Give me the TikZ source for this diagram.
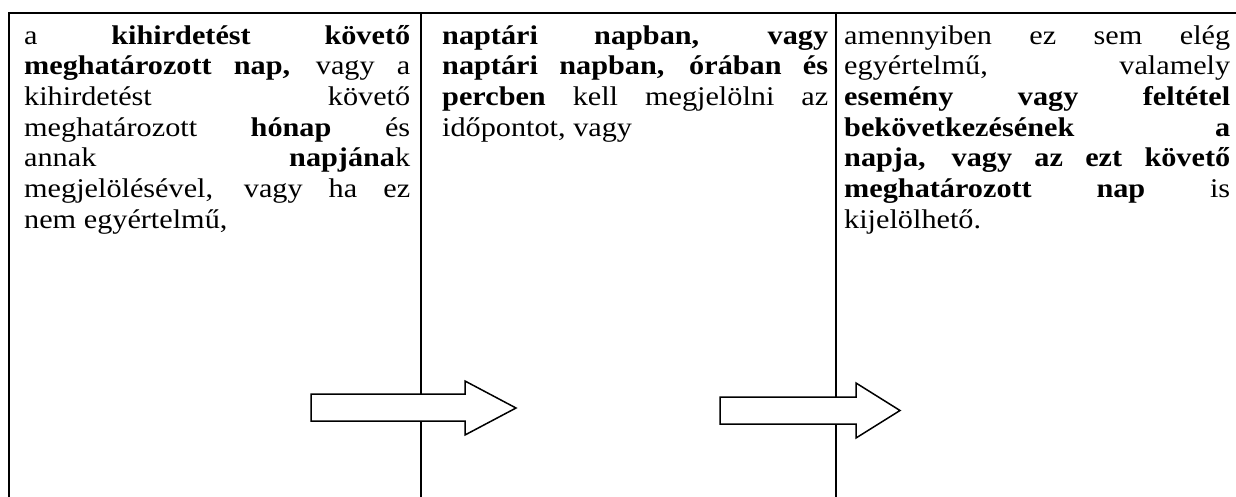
\documentclass[tikz,border=0pt]{standalone}
\usepackage{fontspec}
\setmainfont{Liberation Serif}[FakeStretch=1.12]
\begin{document}
\begin{tikzpicture}[x=1pt,y=-1pt,
  rule/.style={line width=2pt, line cap=rect},
  cell/.style={anchor=north west, inner sep=0pt, align=justify,
    font=\fontsize{27}{30.7}\selectfont},
  blockarrow/.style={draw=black, fill=white, line width=1.5pt, line join=miter}]
\useasboundingbox (0,0) rectangle (1236,497);
% table rules
\draw[rule] (9,13) -- (1240,13);
\draw[rule] (9,13) -- (9,500);
\draw[rule] (421,13) -- (421,500);
\draw[rule] (836,13) -- (836,500);
% cell texts
\node[cell, text width=386pt] (c1) at (24,22.5) {\noindent\tolerance=10000\hyphenpenalty=10000\strut
a \textbf{kihirdetést követő}\linebreak
\textbf{meghatározott nap,} vagy a\linebreak
kihirdetést követő\linebreak
meghatározott \textbf{hónap} és\linebreak
annak \textbf{napjána}k\linebreak
megjelölésével, vagy ha ez\linebreak
nem egyértelmű,};
\node[cell, text width=386pt] (c2) at (442,22.5) {\noindent\tolerance=10000\hyphenpenalty=10000\strut
\textbf{naptári napban, vagy}\linebreak
\textbf{naptári napban, órában és}\linebreak
\textbf{percben} kell megjelölni az\linebreak
időpontot, vagy};
\node[cell, text width=386pt] (c3) at (844,22.5) {\noindent\tolerance=10000\hyphenpenalty=10000\strut
amennyiben ez sem elég\linebreak
egyértelmű, valamely\linebreak
\textbf{esemény vagy feltétel}\linebreak
\textbf{bekövetkezésének a}\linebreak
\textbf{napja, vagy az ezt követő}\linebreak
\textbf{meghatározott nap} is\linebreak
kijelölhető.};
% block arrows
\draw[blockarrow] (311,394) -- (465,394) -- (465,381) -- (516,408) -- (465,435) -- (465,421) -- (311,421) -- cycle;
\draw[blockarrow] (720,397) -- (856,397) -- (856,383) -- (900,410.5) -- (856,438) -- (856,424) -- (720,424) -- cycle;
\end{tikzpicture}
\end{document}
